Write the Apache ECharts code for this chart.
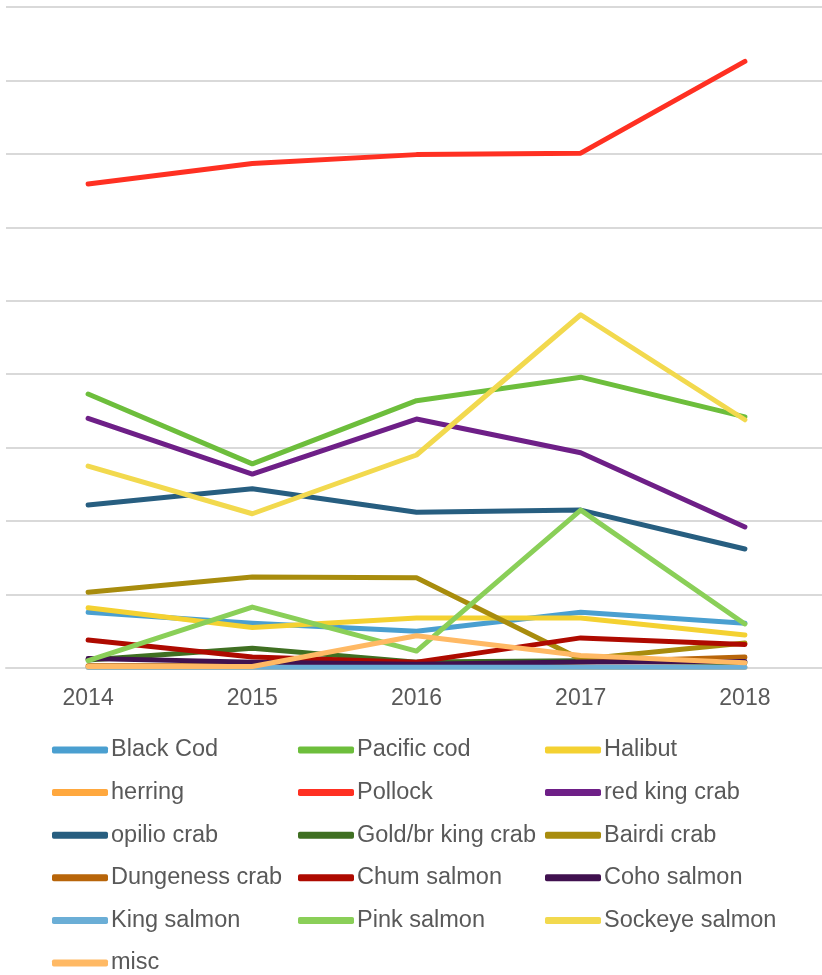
<!DOCTYPE html>
<html>
<head>
<meta charset="utf-8">
<script src="https://cdn.jsdelivr.net/npm/echarts@6/dist/echarts.min.js"></script>
<style>
html,body{margin:0;padding:0;background:#fff;overflow:hidden;width:822px;height:975px;}
#chart{width:832px;height:975px;}
</style>
</head>
<body>
<div id="chart"></div>
<script>
var years = ['2014', '2015', '2016', '2017', '2018'];

var seriesNames = ['Black Cod', 'Pacific cod', 'Halibut', 'herring', 'Pollock', 'red king crab',
  'opilio crab', 'Gold/br king crab', 'Bairdi crab', 'Dungeness crab', 'Chum salmon', 'Coho salmon',
  'King salmon', 'Pink salmon', 'Sockeye salmon', 'misc'];

var blackCod = [76, 61, 50, 76, 61];
var pacificCod = [373, 278, 364, 396, 342];
var halibut = [82, 55, 68, 68, 45];
var herring = [1, 1, 2, 1, 1];
var pollock = [659, 687, 699, 701, 826];
var redKingCrab = [340, 264, 339, 293, 192];
var opilioCrab = [222, 244, 212, 215, 162];
var goldBrKingCrab = [11, 27, 8, 10, 7];
var bairdiCrab = [103, 124, 123, 12, 34];
var dungenessCrab = [3, 3, 3, 8, 15];
var chumSalmon = [38, 15, 8, 41, 32];
var cohoSalmon = [13, 8, 5, 8, 9];
var kingSalmon = [1, 1, 1, 1, 1];
var pinkSalmon = [10, 83, 23, 215, 60];
var sockeyeSalmon = [275, 210, 290, 481, 338];
var misc = [2, 2, 44, 17, 7];

var seriesData = [blackCod, pacificCod, halibut, herring, pollock, redKingCrab, opilioCrab,
  goldBrKingCrab, bairdiCrab, dungenessCrab, chumSalmon, cohoSalmon, kingSalmon, pinkSalmon,
  sockeyeSalmon, misc];

var colors = ['#4A9FD0', '#6DBE3C', '#F4D131', '#FFA83E', '#FF3022', '#6E1F87', '#275E80',
  '#3F6F22', '#A88C0D', '#B8650A', '#AE0A00', '#40114F', '#6BAED6', '#8ACF58', '#F2D94E', '#FFB964'];

var series = seriesNames.map(function (n, i) {
  return {
    name: n,
    type: 'line',
    data: seriesData[i],
    symbol: 'none',
    showSymbol: false,
    color: colors[i],
    lineStyle: { width: 5, color: colors[i], cap: 'round', join: 'round' },
    itemStyle: { color: colors[i] },
    z: 2 + i * 0.01
  };
});

function legendCol(left, names) {
  return {
    orient: 'vertical',
    left: left,
    top: 738,
    itemWidth: 56,
    itemHeight: 7,
    itemGap: 18.6,
    icon: 'roundRect',
    data: names,
    selectedMode: false,
    textStyle: { fontFamily: 'Liberation Sans, Arial, sans-serif', fontSize: 23.5, color: '#595959', lineHeight: 24, padding: [0, 0, 0, -2] },
    padding: 0
  };
}

var chart = echarts.init(document.getElementById('chart'), null, { renderer: 'canvas' });
chart.setOption({
  animation: false,
  backgroundColor: '#ffffff',
  grid: { left: 6, width: 821, top: 7, bottom: 307, containLabel: false },
  xAxis: {
    type: 'category',
    data: years,
    boundaryGap: true,
    axisLine: { show: true, lineStyle: { color: '#d9d9d9', width: 2 } },
    axisTick: { show: false },
    axisLabel: { fontFamily: 'Liberation Sans, Arial, sans-serif', fontSize: 23, color: '#595959', margin: 19 }
  },
  yAxis: {
    type: 'value',
    min: 0,
    max: 900,
    interval: 100,
    axisLabel: { show: false },
    axisLine: { show: false },
    axisTick: { show: false },
    splitLine: { show: true, lineStyle: { color: '#d9d9d9', width: 2 } }
  },
  legend: [
    legendCol(52, ['Black Cod', 'herring', 'opilio crab', 'Dungeness crab', 'King salmon', 'misc']),
    legendCol(298, ['Pacific cod', 'Pollock', 'Gold/br king crab', 'Chum salmon', 'Pink salmon']),
    legendCol(545, ['Halibut', 'red king crab', 'Bairdi crab', 'Coho salmon', 'Sockeye salmon'])
  ],
  series: series
});
</script>
</body>
</html>
